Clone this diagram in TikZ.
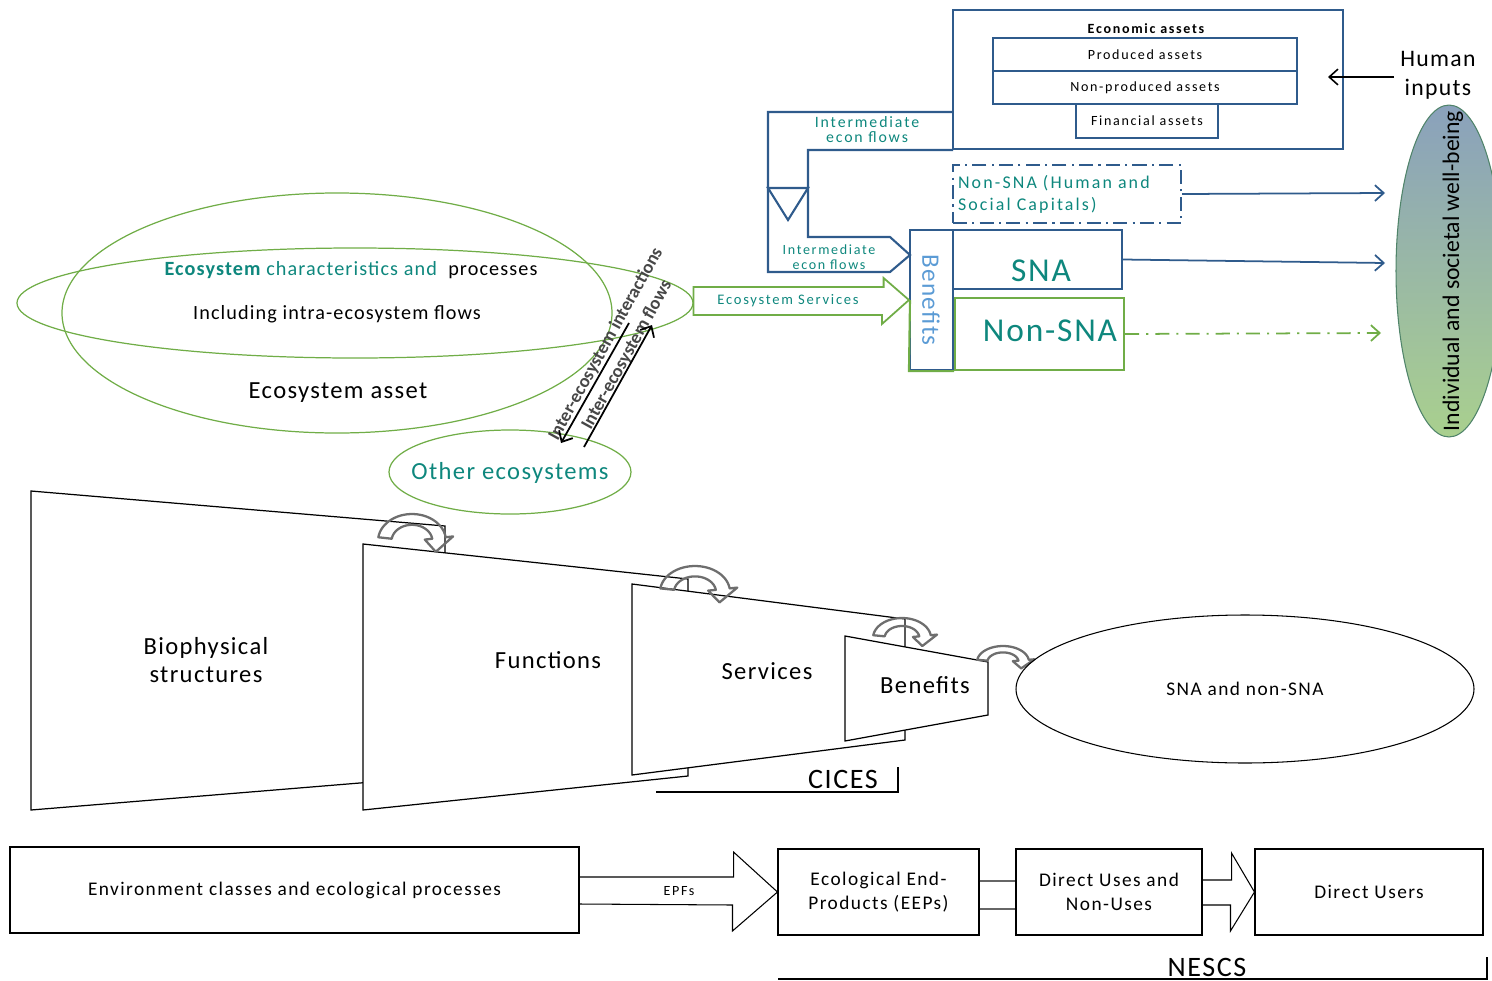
\documentclass[tikz,border=0pt]{standalone}
\usepackage{fontspec}
\setmainfont{Carlito}
\newfontfamily\lsS[LetterSpace=12]{Carlito}
\newfontfamily\lsM[LetterSpace=7.5]{Carlito}
\newfontfamily\lsL[LetterSpace=5.5]{Carlito}
\usetikzlibrary{shapes.geometric,calc,arrows.meta}

\definecolor{blueline}{HTML}{2F5B8C}
\definecolor{greenline}{HTML}{70AD47}
\definecolor{tealtext}{HTML}{0E877D}
\definecolor{lightblue}{HTML}{5B9BD5}
\definecolor{turngrey}{HTML}{6E6E6E}
\definecolor{wbtop}{HTML}{8AA1BC}
\definecolor{wbbottom}{HTML}{A9D08E}

\newcommand\fsz[2]{\fontsize{#1}{#2}\selectfont}

\tikzset{
  txt/.style={inner sep=0pt, align=center},
  bluebox/.style={draw=blueline, line width=1.2pt, inner sep=0pt},
  greenbox/.style={draw=greenline, line width=1.2pt, inner sep=0pt},
  plainbox/.style={draw, line width=0.6pt, inner sep=0pt, align=center},
  greenring/.style={ellipse, draw=greenline, line width=0.7pt, inner sep=0pt},
  funnel/.style={draw, line width=0.7pt},
  turnline/.style={draw=turngrey, line width=1.3pt, line join=round},
  barb/.style={-{Straight Barb[length=5pt,width=9pt]}},
  blueflow/.style={barb, draw=blueline, line width=1pt},
  turn/.pic={
    \draw[turnline] plot[domain=172:8, samples=30] ({cos(\x)},{sin(\x)})
      -- (8:1.22) -- (0.7,-0.4) -- (8:0.38)
      -- plot[domain=8:172, samples=30] ({0.6*cos(\x)},{0.6*sin(\x)}) -- cycle;
  }
}

\begin{document}
\begin{tikzpicture}[x=0.02cm, y=-0.02cm]
  \useasboundingbox (0,0) rectangle (1492,981);

  % economic assets
  \node[bluebox, minimum width=390*0.02cm, minimum height=139*0.02cm] (econ) at (1148,79.5) {};
  \node[txt, font=\lsS\fsz{8}{9}\bfseries] (econlbl) at (1146,29) {Economic assets};
  \node[bluebox, line width=1pt, minimum width=304*0.02cm, minimum height=33*0.02cm,
    font=\lsS\fsz{8}{9}] (produced) at (1145,54.5) {Produced assets};
  \node[bluebox, line width=1pt, minimum width=304*0.02cm, minimum height=33*0.02cm,
    font=\lsS\fsz{8}{9}] (nonprod) at (1145,87.5) {Non-produced assets};
  \node[bluebox, line width=1pt, minimum width=142*0.02cm, minimum height=34*0.02cm,
    font=\lsS\fsz{8}{9}] (financial) at (1147,121) {Financial assets};

  % well-being
  \shade[top color=wbtop, bottom color=wbbottom, draw=blueline!50!greenline, line width=0.6pt]
    (1449,271) ellipse [x radius=1.06cm, y radius=3.32cm];
  \node[txt, rotate=90, font=\fsz{13.5}{13.5}] (wb) at (1453,271) {Individual and societal well-being};

  \node[txt, font=\lsL\fsz{13.5}{16.5}] (human) at (1438,75) {Human\\inputs};
  \coordinate (humanend) at (1328,77);
  \draw[barb, line width=0.9pt] (human.west |- humanend) ++(-6,0) -- (humanend);

  % intermediate flows
  \draw[blueline, line width=1.2pt] (953,112) -- (768,112) -- (768,272) -- (890,272) -- (910,255)
    -- (890,237) -- (808,237) -- (808,150) -- (953,150);
  \draw[blueline, line width=1.2pt] (768,188) -- (808,188) -- (788,220) -- cycle;
  \node[txt, text=tealtext, font=\lsS\fsz{9}{8.5}] (inter1) at (867,130) {Intermediate\\econ flows};
  \node[txt, text=tealtext, font=\lsS\fsz{8}{8.5}] (inter2) at (829,257) {Intermediate\\econ flows};

  % accounts
  \node[draw=blueline, line width=1.3pt, dash pattern=on 8pt off 3pt on 1.2pt off 3pt,
    minimum width=228*0.02cm, minimum height=58*0.02cm, text width=218*0.02cm,
    inner sep=0pt, align=left, text=tealtext, font=\lsS\fsz{10.2}{12.5}] (humsoc) at (1067,194)
    {Non-SNA (Human and\\Social Capitals)};
  \node[bluebox, minimum width=43*0.02cm, minimum height=140*0.02cm] (ben) at (931.5,300) {};
  \draw[greenline, line width=1.2pt] (910,300) -- (ben.south west) -- (ben.south east);
  \node[txt, rotate=-90, text=lightblue, font=\lsL\fsz{14.3}{14}] (benlbl) at (931,300) {Benefits};
  \node[bluebox, minimum width=169*0.02cm, minimum height=59*0.02cm] (sna) at (1037.5,259.5) {};
  \node[txt, text=tealtext, font=\lsL\fsz{19}{19}] (snalbl) at (1041,271) {SNA};
  \node[greenbox, minimum width=169*0.02cm, minimum height=72*0.02cm] (nonsna) at (1039.5,334) {};
  \node[txt, text=tealtext, font=\lsL\fsz{19}{19}] (nonsnalbl) at (1050,331) {Non-SNA};

  \coordinate (wb1) at (1385,193);
  \coordinate (wb2) at (1385,263);
  \coordinate (wb3) at (1381,333);
  \draw[blueflow] (humsoc.east) -- (wb1);
  \draw[blueflow] (sna.east) -- (wb2);
  \draw[barb, draw=greenline, line width=1pt, dash pattern=on 8pt off 4pt on 1.2pt off 4pt]
    (nonsna.east) -- (wb3);

  % ecosystem asset
  \node[greenring, minimum width=550*0.02cm, minimum height=240*0.02cm] (asset) at (337,313) {};
  \node[greenring, minimum width=676*0.02cm, minimum height=110*0.02cm] (flat) at (355,303) {};
  \node[txt, font=\lsL\fsz{11.5}{12}] (charlbl) at (351,270) {\textcolor{tealtext}{\bfseries Ecosystem}
    \textcolor{tealtext}{characteristics and}\ \ processes};
  \node[txt, font=\lsL\fsz{11.5}{12}] (intralbl) at (337,314) {Including intra-ecosystem flows};
  \node[txt, font=\lsL\fsz{14}{14}] (assetlbl) at (338,393) {Ecosystem asset};
  \node[greenring, minimum width=242*0.02cm, minimum height=84*0.02cm] (other) at (510,472) {};
  \node[txt, text=tealtext, font=\lsL\fsz{14}{14}] (otherlbl) at (510,473) {Other ecosystems};

  % flows to other ecosystems
  \node[txt, rotate=61, text=black!72, font=\fsz{10.5}{10.5}\bfseries] (interlbl) at (606,344)
    {Inter-ecosystem interactions};
  \node[txt, rotate=61, text=black!72, font=\fsz{10.5}{10.5}\bfseries] (intrlbl) at (627,355)
    {Inter-ecosystem flows};
  \coordinate (out1) at (629,323);
  \coordinate (out2) at (561,443);
  \coordinate (in1) at (584,447);
  \coordinate (in2) at (652,325);
  \draw[barb, line width=1pt] (out1) -- (out2);
  \draw[barb, line width=1pt] (in1) -- (in2);

  % ecosystem services
  \draw[greenline, line width=1pt] ($(flat.east)+(0,-16)$) -- ++(190,0) -- ++(0,-9) -- (ben.west)
    -- ++(-27,24) -- ++(0,-9) -- ($(flat.east)+(0,12)$) -- cycle;
  \node[txt, text=tealtext, font=\lsS\fsz{8.3}{9}] (eslbl) at (788,301) {Ecosystem Services};

  % cascade
  \draw[funnel] (31,491) -- (445,526) -- (445,776) -- (31,810) -- cycle;
  \draw[funnel, fill=white] (363,544) -- (688,579) -- (688,776) -- (363,810) -- cycle;
  \draw[funnel, fill=white] (632,584) -- (905,619) -- (905,740) -- (632,775) -- cycle;
  \draw[funnel, fill=white] (845,636) -- (988,662) -- (988,715) -- (845,741) -- cycle;
  \node[txt, font=\lsL\fsz{14}{15.5}] (bio) at (206,660) {Biophysical\\structures};
  \node[txt, font=\lsL\fsz{14}{14}] (func) at (548,660) {Functions};
  \node[txt, font=\lsL\fsz{14}{14}] (serv) at (767,671) {Services};
  \node[txt, font=\lsL\fsz{14}{14}] (bnft) at (925,685) {Benefits};
  \pic[xscale=34, yscale=-27] at (412,541) {turn};
  \pic[xscale=35, yscale=-26] at (695,592) {turn};
  \pic[xscale=29, yscale=-20] at (902,638) {turn};
  \pic[xscale=26, yscale=-16] at (1003,662) {turn};
  \node[ellipse, draw, line width=0.6pt, minimum width=458*0.02cm, minimum height=148*0.02cm,
    inner sep=0pt, font=\lsM\fsz{11}{11}] (accts) at (1245,689) {SNA and non-SNA};
  \node[txt, anchor=base, font=\lsL\fsz{16}{16}] (cices) at (843,788) {CICES};
  \draw[line width=0.8pt] (656,792) -- (898,792) -- (898,767);

  % NESCS
  \node[plainbox, minimum width=569*0.02cm, minimum height=86*0.02cm, font=\lsM\fsz{11}{13}] (env)
    at (294.5,890) {Environment classes and ecological processes};
  \node[plainbox, minimum width=201*0.02cm, minimum height=86*0.02cm, font=\lsM\fsz{11}{13.7}] (eep)
    at (878.5,892) {Ecological End-\\Products (EEPs)};
  \node[plainbox, minimum width=186*0.02cm, minimum height=86*0.02cm, font=\lsM\fsz{11}{13.7}] (uses)
    at (1109,892) {Direct Uses and\\Non-Uses};
  \node[plainbox, minimum width=228*0.02cm, minimum height=86*0.02cm, font=\lsM\fsz{11}{13}] (users)
    at (1369,892) {Direct Users};
  \draw[line width=0.6pt] ($(env.east)+(0,-13)$) -- ++(154,0) -- ++(0,-25) -- (eep.west)
    -- ++(-45,39) -- ++(0,-26) -- ($(env.east)+(0,14)$);
  \node[txt, font=\lsS\fsz{8}{8}] (epf) at (679,891) {EPFs};
  \draw[line width=0.6pt, draw=black!60] ($(eep.east)+(0,-11)$) -- ($(uses.west)+(0,-11)$);
  \draw[line width=0.6pt, draw=black!60] ($(eep.east)+(0,17)$) -- ($(uses.west)+(0,17)$);
  \draw[line width=0.6pt] ($(uses.east)+(0,-12)$) -- ++(29,0) -- ++(0,-27) -- (users.west)
    -- ++(-24,39) -- ++(0,-26) -- ($(uses.east)+(0,13)$);
  \node[txt, anchor=base, font=\lsL\fsz{16}{16}] (nescs) at (1207,976) {NESCS};
  \draw[line width=0.8pt] (778,979) -- (1487,979) -- (1487,957);
\end{tikzpicture}
\end{document}
